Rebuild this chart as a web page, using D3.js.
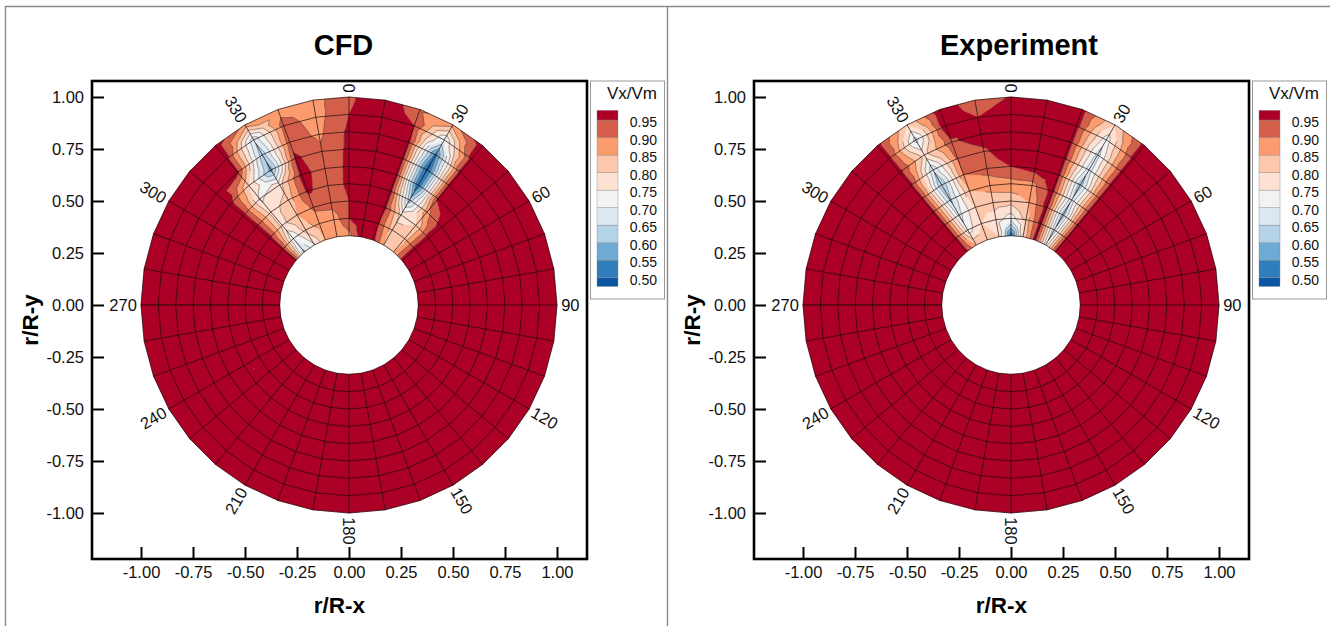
<!DOCTYPE html>
<html>
<head>
<meta charset="utf-8">
<script src="https://cdn.jsdelivr.net/npm/d3@7/dist/d3.min.js"></script>
<style>
  html, body { margin: 0; background: #fff; }
  svg { display: block; font-family: "Liberation Sans", Arial, sans-serif; }
</style>
</head>
<body>
<div id="app"></div>
<script>
`use strict`;

// ring radii in r/R, inner to outer
const Rings = [4/12, 5/12, 6/12, 7/12, 8/12, 9/12, 10/12, 11/12, 1];
const SpokeStep = 10;
const FreeStream = 0.99;

// spoke angle, clockwise from the top
const WakeAngles = [-50, -40, -30, -20, -10, 0, 10, 20, 30, 40, 50];

// Vx/Vm on each wake spoke, inner ring to outer ring
const CFDWake = [
  [.97, .97, .98, .98, .98, .98, .98, .98, .98],
  [.64, .70, .78, .78, .74, .80, .96, .97, .98],
  [.74, .82, .85, .82, .78, .58, .62, .66, .88],
  [.85, .87, .91, .96, .97, .96, .93, .92, .88],
  [.86, .87, .92, .92, .92, .91, .89, .88, .88],
  [.88, .95, .95, .96, .96, .96, .96, .95, .94],
  [.97, .98, .99, .99, .99, .99, .99, .99, .99],
  [.97, .95, .97, .97, .97, .97, .97, .95, .91],
  [.85, .82, .78, .62, .50, .48, .53, .70, .87],
  [.85, .82, .80, .88, .96, .97, .97, .97, .98],
  [.97, .98, .98, .98, .98, .98, .98, .98, .98]
];

const ExperimentWake = [
  [.99, .99, .99, .99, .99, .99, .99, .99, .99],
  [.97, .97, .97, .97, .97, .97, .97, .97, .97],
  [.85, .72, .68, .64, .60, .66, .78, .68, .80],
  [.82, .80, .80, .85, .90, .91, .94, .99, .99],
  [.80, .78, .82, .87, .92, .94, .98, .95, .91],
  [.50, .72, .82, .88, .95, .99, .99, .99, .955],
  [.80, .82, .85, .88, .97, .99, .99, .99, .99],
  [.97, .97, .97, .97, .97, .97, .97, .97, .97],
  [.72, .66, .62, .66, .62, .67, .68, .72, .80],
  [.97, .97, .97, .97, .97, .97, .97, .97, .97],
  [.99, .99, .99, .99, .99, .99, .99, .99, .99]
];

const Levels = [.50, .55, .60, .65, .70, .75, .80, .85, .90, .95];
const BandColors = [`#0a56a5`, `#2f7dbb`, `#6eabd4`, `#b4d2e8`, `#dce7f1`, `#f2f2f2`, `#fde2d4`, `#fdc7ab`, `#fb9b6e`, `#d35f4a`, `#ac0027`];
const AxisTicks = [-1, -.75, -.5, -.25, 0, .25, .5, .75, 1];
const AngleLabels = [0, 30, 60, 90, 120, 150, 180, 210, 240, 270, 300, 330];

const Fig = d3.select(`#app`).append(`svg`).attr(`width`, 1330).attr(`height`, 626);

Fig.append(`path`).attr(`d`, `M5.5 626V6.5H1330M667.5 6.5V626`).attr(`fill`, `none`).attr(`stroke`, `#8a8a8a`).attr(`stroke-width`, 1.4);

// clip polygon [[x, y, v], ...] to v >= lim (sign 1) or v <= lim (sign -1)
const clip = (Poly, lim, sign) => {

  let Out = [];

  Poly.forEach((A, i) => {

    let B = Poly[(i + 1) % Poly.length], da = sign * (A[2] - lim), db = sign * (B[2] - lim);

    if (da >= 0) Out.push(A);

    if (da * db < 0) {

      let t = da / (da - db);

      Out.push([A[0] + t * (B[0] - A[0]), A[1] + t * (B[1] - A[1]), lim]);
    }
  });

  return Out;
};

const tickText = S => d3.format(`.2f`)(S).replace(`\u2212`, `-`);

const drawPanel = Arg => {

  const Left = Arg.left, frame = [Left, Left + 495], top = 81, bottom = 559;

  let x = d3.scaleLinear().domain([-1, 1]).range([Left + 49, Left + 465]),
  y = d3.scaleLinear().domain([-1, 1]).range([513, 97]);

  let G = Fig.append(`g`);

  const value = (ring, spoke) => {

    let a = ((spoke * SpokeStep + 180) % 360) - 180, at = WakeAngles.indexOf(a);

    return (at < 0) ? FreeStream : Arg.wake[at][ring];
  };

  const node = (ring, spoke) => {

    let t = spoke * SpokeStep * Math.PI / 180;

    return [x(Rings[ring] * Math.sin(t)), y(Rings[ring] * Math.cos(t)), value(ring, spoke)];
  };

  const line = d3.line();

  const nSpokes = 360 / SpokeStep;

  let BandPaths = BandColors.map(() => ``), IsoPath = ``;

  for (let ring = 0; ring < Rings.length - 1; ring++) {

    for (let spoke = 0; spoke < nSpokes; spoke++) {

      let Q = [node(ring, spoke), node(ring, spoke + 1), node(ring + 1, spoke + 1), node(ring + 1, spoke)];

      let Mid = [d3.mean(Q, S => S[0]), d3.mean(Q, S => S[1]), d3.mean(Q, S => S[2])];

      Q.forEach((A, i) => {

        let Tri = [A, Q[(i + 1) % 4], Mid];

        BandColors.forEach((color, b) => {

          let Poly = Tri;

          if (b > 0) Poly = clip(Poly, Levels[b - 1], 1);

          if (b < Levels.length && Poly.length) Poly = clip(Poly, Levels[b], -1);

          if (Poly.length > 2) BandPaths[b] += line(Poly) + `Z`;
        });

        Levels.forEach(level => {

          let Cut = [];

          Tri.forEach((P, j) => {

            let R = Tri[(j + 1) % 3];

            if ((P[2] - level) * (R[2] - level) < 0) {

              let t = (level - P[2]) / (R[2] - P[2]);

              Cut.push([P[0] + t * (R[0] - P[0]), P[1] + t * (R[1] - P[1])]);
            }
          });

          if (Cut.length === 2) IsoPath += line(Cut);
        });
      });
    }
  }

  G.selectAll(`.band`).data(BandColors).enter().append(`path`)
    .attr(`class`, `band`)
    .attr(`d`, (S, b) => BandPaths[b])
    .attr(`fill`, S => S).attr(`stroke`, S => S).attr(`stroke-width`, .3);

  G.append(`path`).attr(`d`, IsoPath).attr(`fill`, `none`).attr(`stroke`, `#222`).attr(`stroke-width`, .5).attr(`stroke-opacity`, .8);

  // mesh
  Rings.forEach((S, ring) => {

    let Arc = d3.range(nSpokes + 1).map(spoke => node(ring, spoke));

    G.append(`path`).attr(`d`, line(Arc)).attr(`fill`, `none`).attr(`stroke`, `#1a0a0a`).attr(`stroke-width`, .7);
  });

  d3.range(nSpokes).forEach(spoke => {

    G.append(`path`).attr(`d`, line(Rings.map((S, ring) => node(ring, spoke)))).attr(`fill`, `none`).attr(`stroke`, `#1a0a0a`).attr(`stroke-width`, (spoke === 27) ? 1.2 : .7);
  });

  // axes
  let xAxis = G.append(`g`).attr(`transform`, `translate(0,${bottom})`).call(d3.axisBottom(x).tickValues(AxisTicks).tickFormat(tickText).tickSize(-12).tickPadding(7));

  let yAxis = G.append(`g`).attr(`transform`, `translate(${frame[0]},0)`).call(d3.axisLeft(y).tickValues(AxisTicks).tickFormat(tickText).tickSize(-12).tickPadding(8));

  [xAxis, yAxis].forEach(A => {

    A.select(`.domain`).remove();

    A.selectAll(`line`).attr(`stroke`, `#000`).attr(`stroke-width`, 2);

    A.selectAll(`text`).attr(`font-size`, 16.5).attr(`fill`, `#111`).attr(`font-family`, `inherit`);
  });

  G.append(`rect`).attr(`x`, frame[0]).attr(`y`, top).attr(`width`, frame[1] - frame[0]).attr(`height`, bottom - top).attr(`fill`, `none`).attr(`stroke`, `#000`).attr(`stroke-width`, 2.6);

  // angle labels around the rim, the text starts or ends just off the rim
  G.selectAll(`.angle`).data(AngleLabels).enter().append(`text`)
    .attr(`class`, `angle`)
    .attr(`transform`, S => {

      let t = S * Math.PI / 180, px = x(1.02 * Math.sin(t)), py = y(1.02 * Math.cos(t));

      return `translate(${px},${py}) rotate(${(S <= 180) ? S - 90 : S - 270})`;
    })
    .attr(`text-anchor`, S => (S <= 180) ? `start` : `end`).attr(`dominant-baseline`, `central`)
    .attr(`font-size`, 16.5).attr(`fill`, `#111`)
    .text(S => S);

  // titles
  G.append(`text`).attr(`x`, Arg.titleX).attr(`y`, 55).attr(`text-anchor`, `middle`).attr(`font-size`, 29).attr(`font-weight`, `bold`).text(Arg.title);

  G.append(`text`).attr(`x`, (frame[0] + frame[1]) / 2).attr(`y`, 613).attr(`text-anchor`, `middle`).attr(`font-size`, 22.5).attr(`font-weight`, `bold`).text(`r/R-x`);

  G.append(`text`).attr(`transform`, `translate(${Left - 54},320) rotate(-90)`).attr(`text-anchor`, `middle`).attr(`font-size`, 22.5).attr(`font-weight`, `bold`).text(`r/R-y`);

  // legend
  let Key = G.append(`g`).attr(`transform`, `translate(${Left + 498},0)`);

  let ly = d3.scaleLinear().domain([.95, .50]).range([120, 277.7]);

  Key.append(`rect`).attr(`x`, .5).attr(`y`, 81).attr(`width`, 74).attr(`height`, 218).attr(`fill`, `#fff`).attr(`stroke`, `#999`).attr(`stroke-width`, 1);

  Key.append(`text`).attr(`x`, 67).attr(`y`, 99).attr(`text-anchor`, `end`).attr(`font-size`, 17).attr(`fill`, `#111`).text(`Vx/Vm`);

  BandColors.forEach((color, b) => {

    let hi = (b < Levels.length) ? Levels[b] : .9775, lo = (b > 0) ? Levels[b - 1] : .475;

    Key.append(`rect`).attr(`x`, 7).attr(`y`, ly(hi)).attr(`width`, 21).attr(`height`, ly(lo) - ly(hi)).attr(`fill`, color).attr(`stroke`, `#888`).attr(`stroke-width`, .4);
  });

  Key.selectAll(`.lev`).data(Levels).enter().append(`text`)
    .attr(`class`, `lev`)
    .attr(`x`, 67).attr(`y`, S => ly(S) + 2)
    .attr(`text-anchor`, `end`).attr(`dominant-baseline`, `central`)
    .attr(`font-size`, 14).attr(`fill`, `#111`)
    .text(d3.format(`.2f`));
};

drawPanel({left: 92, title: `CFD`, titleX: 343.5, wake: CFDWake});

drawPanel({left: 754, title: `Experiment`, titleX: 1019, wake: ExperimentWake});
</script>
</body>
</html>
